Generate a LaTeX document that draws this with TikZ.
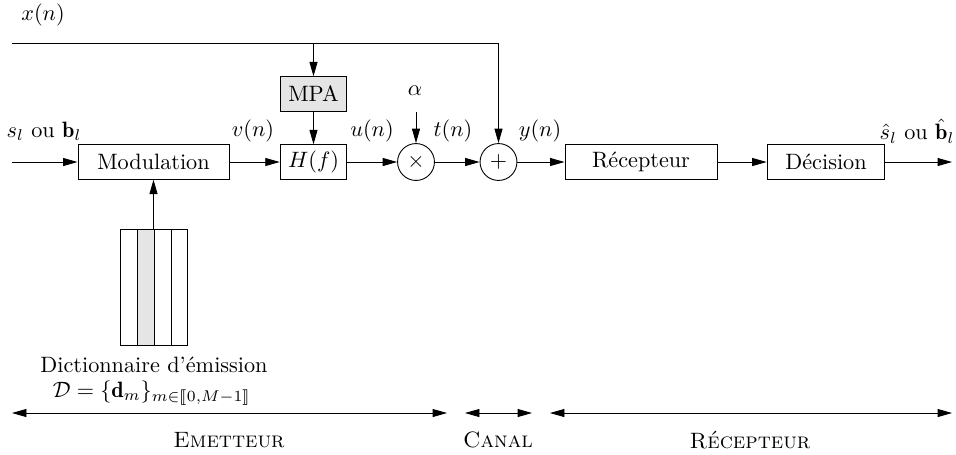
\documentclass[tikz,border=0pt]{standalone}
\usepackage{fontspec}
\usepackage{amsmath,stmaryrd}
\usetikzlibrary{arrows.meta}
\begin{document}
\begin{tikzpicture}[x=0.45pt,y=-0.45pt,
  >={Triangle[length=6.5pt,width=3.6pt]},
  box/.style={draw, minimum height=15.5pt, inner sep=0pt},
  sum/.style={draw, circle, minimum size=16.6pt, inner sep=0pt},
  lab/.style={inner sep=0pt}]
\useasboundingbox (0,0) rectangle (956,454);
% main chain
\coordinate (in) at (12,162);
\node[box, minimum width=68pt] (mod) at (153.5,162) {Modulation};
\node[box, minimum width=30pt] (H) at (313.5,162) {$H(f)$};
\node[box, minimum width=30pt, fill=gray!20] (mpa) at (313.5,94) {MPA};
\node[sum] (mul) at (416,162) {$\times$};
\node[sum] (add) at (498.5,162) {$+$};
\node[box, minimum width=68.4pt] (rec) at (641,162) {Récepteur};
\node[box, minimum width=53pt] (dec) at (826,162) {Décision};
\coordinate (out) at (952,162);
\coordinate (xs) at (12,43);
\coordinate (xa) at (313.5,43);
\coordinate (xb) at (498.5,43);
\coordinate (alpha0) at (416,112);
\draw[->] (in) -- (mod);
\draw[->] (mod) -- (H);
\draw[->] (H) -- (mul);
\draw[->] (mul) -- (add);
\draw[->] (add) -- (rec);
\draw[->] (rec) -- (dec);
\draw[->] (dec) -- (out);
\draw (xs) -- (xb);
\draw[->] (xb) -- (add);
\draw[->] (xa) -- (mpa);
\draw[->] (mpa) -- (H);
\draw[->] (alpha0) -- (mul);
% dictionary
\fill[gray!20] (137,229) rectangle (154,345);
\node[draw, minimum width=30.15pt, minimum height=52.2pt, inner sep=0pt] (dict) at (153.5,287) {};
\draw (137,229) -- (137,345) (154,229) -- (154,345) (171,229) -- (171,345);
\draw[->] (dict.north) -- (mod.south);
% labels
\node[lab] (lx) at (43,15) {$x(n)$};
\node[lab] (ls) at (44,131) {$s_l$ ou $\mathbf{b}_l$};
\node[lab] (lv) at (253,131) {$v(n)$};
\node[lab] (lu) at (372,131) {$u(n)$};
\node[lab] (la) at (415,91) {$\alpha$};
\node[lab] (lt) at (453,131) {$t(n)$};
\node[lab] (ly) at (540,131) {$y(n)$};
\node[lab] (lo) at (917,131) {$\hat{s}_l$ ou $\hat{\mathbf{b}}_l$};
\node[lab] (ld1) at (154,365) {Dictionnaire d'émission};
\node[lab] (ld2) at (152,393) {$\mathcal{D}=\{\mathbf{d}_m\}_{m\in\llbracket 0,M-1\rrbracket}$};
% ranges
\coordinate (e1) at (12,413); \coordinate (e2) at (447,413);
\coordinate (c1) at (465,413); \coordinate (c2) at (532,413);
\coordinate (r1) at (550,413); \coordinate (r2) at (952,413);
\draw[<->] (e1) -- (e2);
\draw[<->] (c1) -- (c2);
\draw[<->] (r1) -- (r2);
\node[lab] (le) at (229,440) {\textsc{Emetteur}};
\node[lab] (lc) at (498,440) {\textsc{Canal}};
\node[lab] (lr) at (750,440) {\textsc{Récepteur}};
\end{tikzpicture}
\end{document}
